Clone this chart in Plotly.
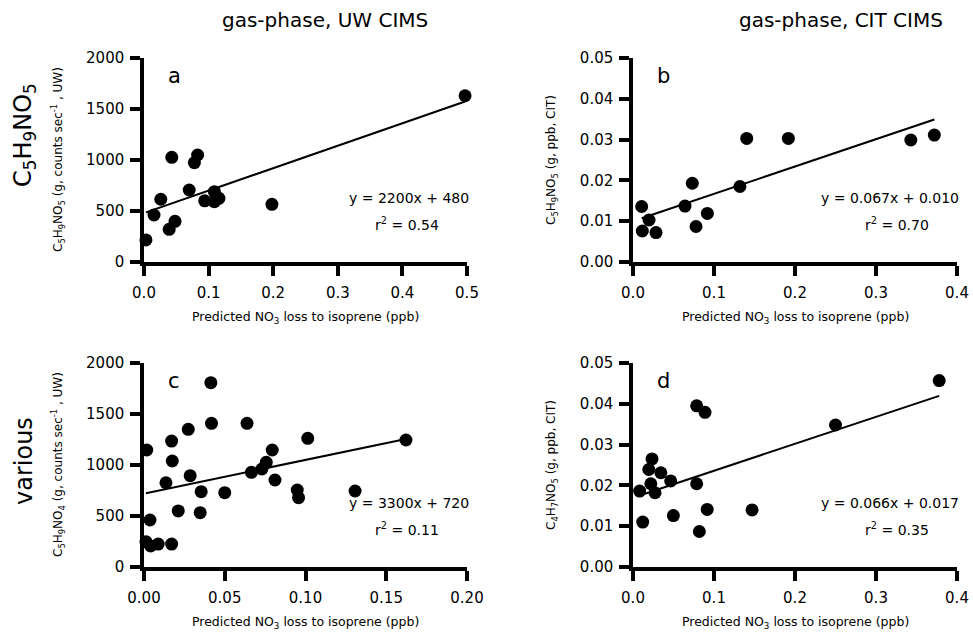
import plotly.graph_objects as go

# ---- data -------------------------------------------------------------
# panel a: C5H9NO5 (UW CIMS) vs predicted NO3 loss to isoprene
a_x = [0.003, 0.0155, 0.026, 0.039, 0.043, 0.048, 0.070, 0.078, 0.083,
       0.094, 0.109, 0.109, 0.116, 0.198, 0.497]
a_y = [216, 461, 615, 320, 1026, 399, 706, 974, 1049,
       600, 591, 689, 624, 565, 1630]
a_fit = ("2200", "480", "0.54")

# panel b: C5H9NO5 (CIT CIMS)
b_x = [0.0107, 0.0115, 0.0198, 0.0284, 0.0642, 0.0732, 0.0778, 0.0918,
       0.132, 0.1404, 0.1918, 0.343, 0.372]
b_y = [0.0136, 0.0076, 0.0103, 0.0072, 0.0137, 0.0193, 0.0087, 0.0119,
       0.0185, 0.0303, 0.0303, 0.0299, 0.0311]
b_fit = ("0.067", "0.010", "0.70")

# panel c: C5H9NO4 (UW CIMS)
c_x = [0.0017, 0.0012, 0.0041, 0.0088, 0.0171, 0.0037, 0.0136, 0.0171,
       0.0175, 0.0212, 0.0274, 0.0286, 0.0354, 0.0348, 0.0414, 0.0418,
       0.050, 0.0638, 0.0665, 0.073, 0.0757, 0.0794, 0.0811, 0.0949,
       0.0957, 0.1014, 0.1307, 0.1622]
c_y = [1147, 248, 206, 225, 225, 461, 826, 1235,
       1039, 550, 1350, 895, 738, 533, 1807, 1409,
       729, 1409, 928, 961, 1026, 1147, 853, 755,
       680, 1262, 745, 1245]
c_fit = ("3300", "720", "0.11")

# panel d: C4H7NO5 (CIT CIMS)
d_x = [0.0082, 0.012, 0.0195, 0.0235, 0.0220, 0.0272, 0.0344, 0.0465,
       0.0498, 0.0786, 0.0786, 0.0889, 0.0819, 0.0916, 0.147, 0.250, 0.378]
d_y = [0.0186, 0.0110, 0.0239, 0.0265, 0.0204, 0.0182, 0.0231, 0.0211,
       0.0126, 0.0395, 0.0204, 0.0379, 0.0087, 0.0141, 0.0140, 0.0348, 0.0457]
d_fit = ("0.066", "0.017", "0.35")

x_ranges = [[0, 0.5], [0, 0.4], [0, 0.2], [0, 0.4]]
x_dticks = [0.1, 0.1, 0.05, 0.1]
x_formats = [".1f", ".1f", ".2f", ".1f"]
y_ranges = [[0, 2000], [0, 0.05], [0, 2000], [0, 0.05]]
y_dticks = [500, 0.01, 500, 0.01]
y_formats = ["d", ".2f", "d", ".2f"]

panel_letters = ["a", "b", "c", "d"]
y_titles = [
    "C<sub>5</sub>H<sub>9</sub>NO<sub>5</sub> (g, counts sec<sup>-1</sup> , UW)",
    "C<sub>5</sub>H<sub>9</sub>NO<sub>5</sub> (g, ppb, CIT)",
    "C<sub>5</sub>H<sub>9</sub>NO<sub>4</sub> (g, counts sec<sup>-1</sup> , UW)",
    "C<sub>4</sub>H<sub>7</sub>NO<sub>5</sub> (g, ppb, CIT)",
]
x_title = "Predicted NO<sub>3</sub> loss to isoprene (ppb)"
col_titles = ["gas-phase, UW CIMS", "gas-phase, CIT CIMS"]
row_titles = ["C<sub>5</sub>H<sub>9</sub>NO<sub>5</sub>", "various"]

series = [(a_x, a_y, a_fit), (b_x, b_y, b_fit), (c_x, c_y, c_fit), (d_x, d_y, d_fit)]

# ---- layout geometry (pixels) ----------------------------------------
W, H = 973, 634
col_px = [(144, 467), (633, 957)]
row_px = [(58, 262), (363, 567)]

FONT = "'DejaVu Sans', Verdana, sans-serif"


def px_x(p):
    return p / W


def px_y(p):
    return 1 - p / H


fig = go.Figure()
layout = dict(
    template="none",
    width=W, height=H,
    margin=dict(l=0, r=0, t=0, b=0, pad=0),
    paper_bgcolor="white", plot_bgcolor="white",
    showlegend=False,
    font=dict(family=FONT, color="black"),
)
annotations = []

for i, (xs, ys, (slope_s, icpt_s, r2)) in enumerate(series):
    r, c = divmod(i, 2)
    n = "" if i == 0 else str(i + 1)
    xa, ya = "x" + n, "y" + n
    x0, x1 = col_px[c]
    y0, y1 = row_px[r]
    slope, icpt = float(slope_s), float(icpt_s)

    fig.add_trace(go.Scatter(
        x=xs, y=ys, mode="markers", xaxis=xa, yaxis=ya,
        marker=dict(size=13, color="black", line=dict(width=0)),
        cliponaxis=False,
    ))
    # least-squares line as reported in the panel
    lx = [min(xs), max(xs)]
    fig.add_trace(go.Scatter(
        x=lx, y=[slope * v + icpt for v in lx], mode="lines",
        xaxis=xa, yaxis=ya, line=dict(color="black", width=2),
        cliponaxis=False,
    ))

    axis_common = dict(
        showgrid=False, zeroline=False, showline=True, linecolor="black",
        linewidth=3.5, ticks="outside", ticklen=10, tickwidth=3.5,
        tickcolor="black", tickfont=dict(family=FONT, size=15, color="black"),
        fixedrange=True, automargin=False,
    )
    layout["xaxis" + n] = dict(
        axis_common, domain=[px_x(x0), px_x(x1)], anchor=ya,
        range=x_ranges[i], tick0=0, dtick=x_dticks[i],
        tickformat=x_formats[i], ticklabelstandoff=4,
    )
    layout["yaxis" + n] = dict(
        axis_common, domain=[px_y(y1), px_y(y0)], anchor=xa,
        range=y_ranges[i], tick0=0, dtick=y_dticks[i],
        tickformat=y_formats[i], ticklabelstandoff=3,
    )

    # panel letter
    annotations.append(dict(
        text=panel_letters[i], x=px_x(x0 + 30), y=px_y(y0 + 18),
        xref="paper", yref="paper", showarrow=False,
        font=dict(family=FONT, size=21), xanchor="center", yanchor="middle",
    ))
    # fit equation and r^2
    annotations.append(dict(
        text=f"y = {slope_s}x + {icpt_s}", x=px_x(x1 + 4), y=px_y(y0 + 140),
        xref="paper", yref="paper", showarrow=False,
        font=dict(family=FONT, size=14), xanchor="right", yanchor="middle",
    ))
    annotations.append(dict(
        text=f"r<sup>2</sup> = {r2}", x=px_x(x1 - 60), y=px_y(y0 + 166),
        xref="paper", yref="paper", showarrow=False,
        font=dict(family=FONT, size=14), xanchor="center", yanchor="middle",
    ))
    # y-axis title
    annotations.append(dict(
        text=y_titles[i], x=px_x(x0 - 86 + (0 if c == 0 else 5)),
        y=px_y((y0 + y1) / 2),
        xref="paper", yref="paper", showarrow=False, textangle=-90,
        font=dict(family=FONT, size=12), xanchor="center", yanchor="middle",
    ))
    # x-axis title
    annotations.append(dict(
        text=x_title, x=px_x((x0 + x1) / 2), y=px_y(y1 + 55),
        xref="paper", yref="paper", showarrow=False,
        font=dict(family=FONT, size=12.5), xanchor="center", yanchor="middle",
    ))

# column headings
for c, t in enumerate(col_titles):
    annotations.append(dict(
        text=t, x=px_x([325, 841][c]), y=px_y(20),
        xref="paper", yref="paper", showarrow=False,
        font=dict(family=FONT, size=20), xanchor="center", yanchor="middle",
    ))
# row headings
for r, t in enumerate(row_titles):
    annotations.append(dict(
        text=t, x=px_x(24), y=px_y([135, 461][r]),
        xref="paper", yref="paper", showarrow=False, textangle=-90,
        font=dict(family=FONT, size=24), xanchor="center", yanchor="middle",
    ))

layout["annotations"] = annotations
fig.update_layout(**layout)
fig.write_html("out.html")
